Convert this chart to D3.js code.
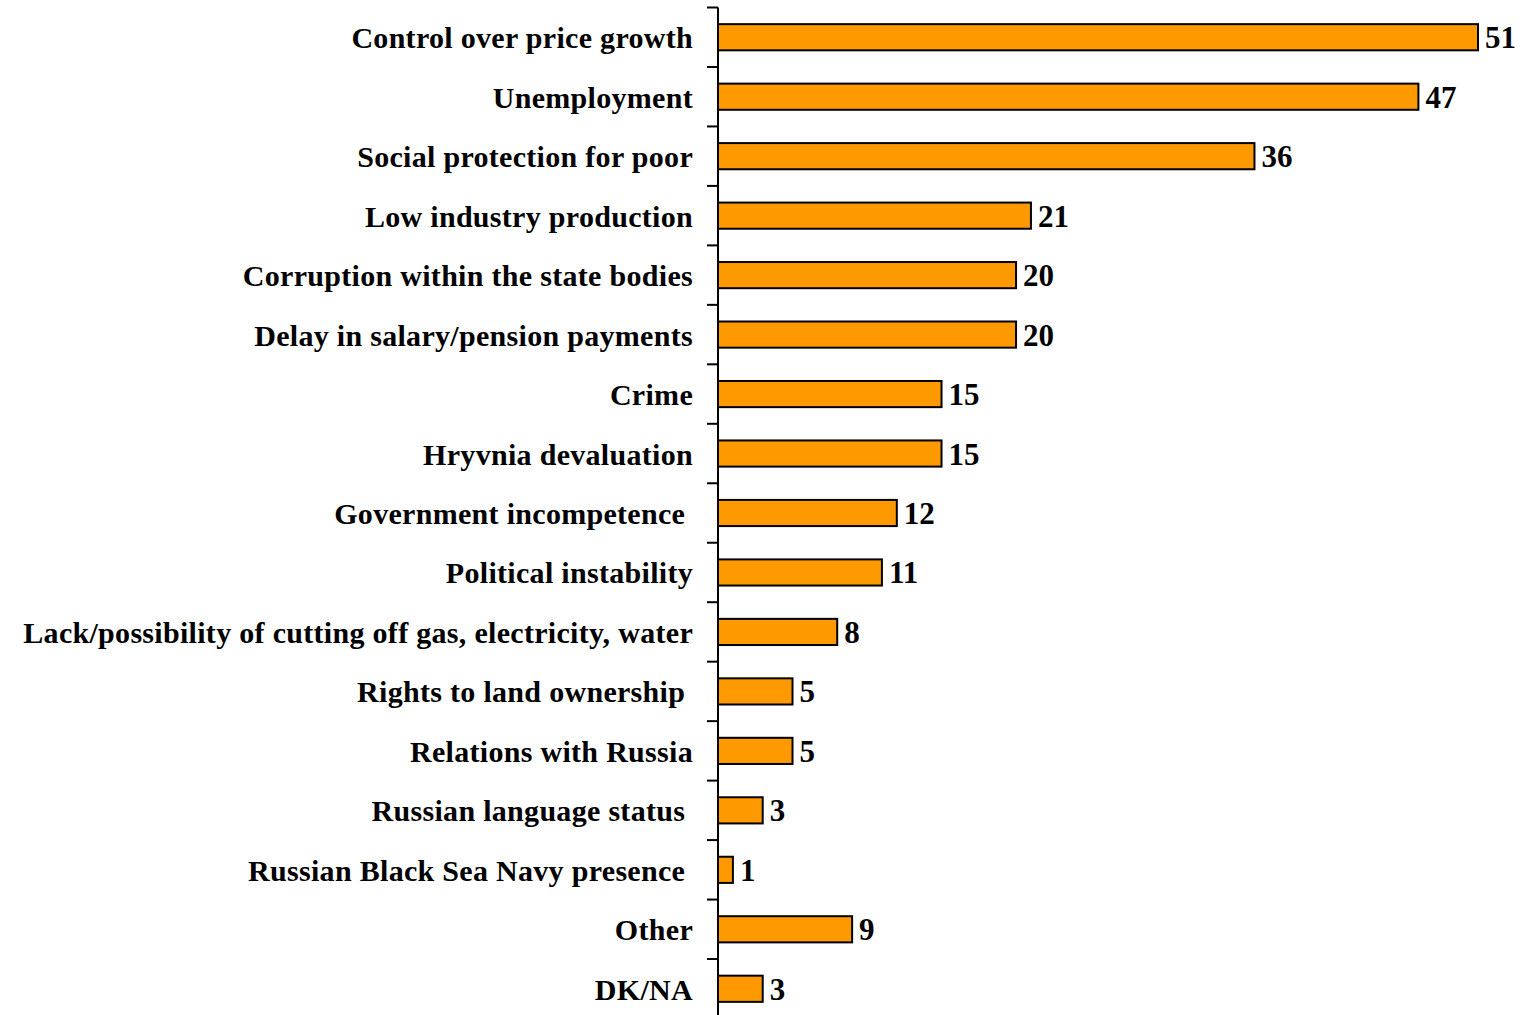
<!DOCTYPE html>
<html><head><meta charset="utf-8">
<script src="https://cdn.jsdelivr.net/npm/d3@7"></script>
<style>
html,body{margin:0;padding:0;background:#fff;}
svg text{font-family:"Liberation Serif","Times New Roman",serif;font-weight:bold;fill:#000;white-space:pre;}
</style></head>
<body>
<svg id="chart" width="1522" height="1015"></svg>
<script>
const categories = [
  "Control over price growth",
  "Unemployment",
  "Social protection for poor",
  "Low industry production",
  "Corruption within the state bodies",
  "Delay in salary/pension payments",
  "Crime",
  "Hryvnia devaluation",
  "Government incompetence ",
  "Political instability",
  "Lack/possibility of cutting off gas, electricity, water",
  "Rights to land ownership ",
  "Relations with Russia",
  "Russian language status ",
  "Russian Black Sea Navy presence ",
  "Other",
  "DK/NA"
];
const values = [51, 47, 36, 21, 20, 20, 15, 15, 12, 11, 8, 5, 5, 3, 1, 9, 3];

const svg = d3.select("#chart");
const x0 = 718;
const x = d3.scaleLinear().domain([0, 51]).range([x0, 1478]);
const y = d3.scaleBand().domain(categories).range([7.5, 1018.5]).paddingInner(0.56).paddingOuter(0.28);
const yStep = y.step();

// bars
svg.selectAll("rect.bar").data(values).enter().append("rect")
  .attr("class", "bar")
  .attr("x", x(0))
  .attr("y", (d, i) => y(categories[i]))
  .attr("width", d => x(d) - x(0))
  .attr("height", y.bandwidth())
  .attr("fill", "#FF9900")
  .attr("stroke", "#000")
  .attr("stroke-width", 2);

// axis line and ticks at category boundaries
svg.append("line").attr("x1", x0).attr("x2", x0).attr("y1", 7.5).attr("y2", 1015)
  .attr("stroke", "#000").attr("stroke-width", 2);
d3.range(categories.length + 1).forEach(k => {
  const ty = 7.5 + k * yStep;
  svg.append("line").attr("x1", x0 - 11).attr("x2", x0).attr("y1", ty).attr("y2", ty)
    .attr("stroke", "#000").attr("stroke-width", 2);
});

// category labels
svg.selectAll("text.cat").data(categories).enter().append("text")
  .attr("class", "cat")
  .attr("x", 693)
  .attr("y", d => y(d) + y.bandwidth() / 2 + 11)
  .attr("text-anchor", "end")
  .attr("font-size", 30)
  .attr("letter-spacing", 0.3)
  .text(d => d);

// value labels
svg.selectAll("text.val").data(values).enter().append("text")
  .attr("class", "val")
  .attr("x", d => x(d) + 7)
  .attr("y", (d, i) => y(categories[i]) + y.bandwidth() / 2 + 11)
  .attr("font-size", 31)
  .text(d => d);
</script>
</body></html>
